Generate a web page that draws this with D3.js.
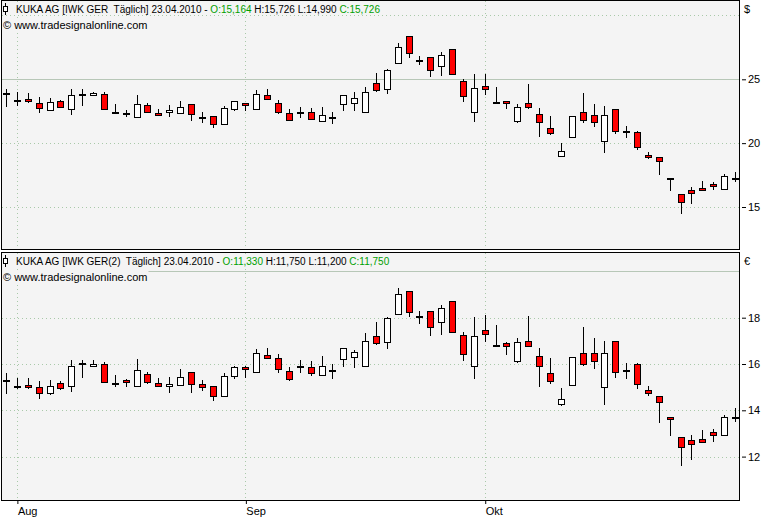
<!DOCTYPE html>
<html>
<head>
<meta charset="utf-8">
<script src="https://cdn.jsdelivr.net/npm/d3@7"></script>
<style>
  body { margin: 0; background: #fff; }
  svg { display: block; }
  text { font-family: "Liberation Sans", Arial, sans-serif; font-size: 11px; fill: #000; white-space: pre; }
</style>
</head>
<body>
<div id="chart"></div>
<script>
var svgWidth = 769;
var svgHeight = 520;

// month labels on the x axis (index of the candle where the month starts)
var monthLabels = ["Aug", "Sep", "Okt"];
var monthIdx = [1, 22, 44];

// upper panel ($)
var usdOpen = [23.90,23.41,23.43,23.12,22.60,23.28,22.65,23.88,23.75,23.83,22.45,22.39,22.05,22.97,22.34,22.42,22.39,23.04,22.08,22.11,21.48,22.65,23.14,22.69,23.75,23.15,22.34,22.47,22.42,21.72,22.08,23.04,23.18,22.42,24.69,24.22,26.25,28.36,26.53,26.72,26.01,27.34,24.84,22.42,24.47,23.25,23.33,21.72,23.15,22.29,21.17,19.03,20.47,22.42,22.19,20.15,22.71,20.99,20.86,19.06,18.90,17.24,16.01,16.33,16.48,16.79,16.40,17.24];
var usdHigh = [24.22,23.98,23.90,23.59,23.51,23.36,24.22,24.22,24.03,23.98,23.07,22.60,23.77,23.18,22.68,22.99,23.28,23.04,22.42,22.11,22.89,23.28,23.15,24.16,24.24,23.38,22.68,22.81,22.73,22.81,22.44,23.75,24.03,24.42,25.47,25.81,27.81,28.36,26.85,26.72,27.11,27.34,25.00,25.41,25.41,24.42,23.33,23.07,24.63,22.73,22.13,20.02,22.11,23.93,23.07,22.89,22.71,21.35,20.96,19.29,18.90,17.24,16.01,16.56,17.03,16.95,17.58,17.71];
var usdLow = [22.86,22.94,23.17,22.39,22.55,22.78,22.24,22.94,23.67,22.60,22.26,22.08,22.03,22.39,22.18,22.03,22.34,21.77,21.61,21.22,21.43,22.52,22.48,22.64,23.49,22.26,21.77,22.00,21.87,21.64,21.53,22.55,22.55,22.42,24.03,23.88,26.25,26.64,26.09,25.15,25.28,25.39,23.25,21.69,23.80,23.09,22.65,21.59,22.71,20.47,20.62,18.96,20.47,21.61,21.30,19.19,20.70,20.44,19.43,18.72,17.47,16.22,14.45,15.21,16.30,16.33,16.40,16.98];
var usdClose = [23.90,23.41,23.28,22.73,23.20,22.86,23.80,23.88,23.90,22.65,22.45,22.39,23.04,22.47,22.18,22.60,22.81,22.29,22.08,21.48,22.73,23.28,22.96,23.84,23.49,22.42,21.85,22.47,21.93,22.18,22.08,23.75,23.51,23.98,24.16,25.70,27.50,27.03,26.53,25.70,26.87,25.39,23.67,24.29,24.21,23.25,23.12,22.81,22.81,21.64,20.81,19.37,22.11,21.79,21.69,22.19,20.94,20.99,19.69,18.90,18.59,17.24,15.39,16.09,16.33,16.61,17.42,17.24];
var usdTicks = [15, 20, 25];
var usdDotted = [15, 20, 30];
var usdLevel = 25;

// lower panel (€)
var eurOpen = [15.32,15.06,15.09,14.99,14.73,15.16,15.06,16.06,15.90,15.98,15.19,15.31,15.04,15.55,15.17,15.04,15.11,15.64,15.12,15.04,14.63,15.47,15.86,15.64,16.37,16.24,15.68,15.91,15.89,15.54,15.76,16.23,16.29,15.90,17.21,16.94,18.15,19.14,18.09,18.28,17.80,18.71,17.24,15.90,17.45,16.83,16.89,16.12,16.98,16.33,15.60,14.26,15.08,16.46,16.46,14.99,16.98,15.73,15.99,14.86,14.60,13.70,12.83,12.70,12.75,13.05,12.92,13.73];
var eurHigh = [15.60,15.38,15.38,15.27,15.31,15.25,16.17,16.17,16.17,16.09,15.53,15.37,16.22,15.65,15.38,15.42,15.78,15.64,15.31,15.04,15.60,15.93,15.91,16.65,16.68,16.43,15.86,16.17,16.13,16.33,16.00,16.68,16.62,17.34,17.81,18.01,19.28,19.14,18.28,18.28,18.55,18.71,17.37,18.02,18.10,17.67,16.95,17.11,18.07,16.68,16.24,14.96,16.29,17.60,17.11,16.98,16.98,16.03,16.03,15.03,14.60,13.70,12.83,12.92,13.13,13.18,13.78,14.09];
var eurLow = [14.69,14.92,14.93,14.50,14.65,14.88,14.81,15.41,15.90,15.17,15.02,15.02,15.04,15.15,15.04,14.76,15.08,14.76,14.82,14.42,14.60,15.34,15.40,15.64,16.24,15.63,15.25,15.63,15.50,15.51,15.37,15.87,15.84,15.90,16.81,16.66,18.15,18.02,17.74,17.22,17.27,17.37,16.14,15.37,16.95,16.75,16.40,16.04,16.72,15.02,15.15,14.17,15.08,15.90,15.80,14.24,15.41,15.37,14.93,14.60,13.46,12.88,11.61,11.87,12.62,12.65,12.92,13.51];
var eurClose = [15.32,15.06,14.99,14.73,15.03,14.95,15.90,16.06,16.01,15.21,15.19,15.22,15.73,15.21,15.04,15.12,15.42,15.12,15.02,14.60,15.47,15.86,15.77,16.46,16.24,15.77,15.34,15.91,15.60,15.90,15.76,16.68,16.50,16.98,16.89,17.97,19.01,18.23,18.09,17.58,18.41,17.37,16.42,17.20,17.28,16.83,16.76,16.94,16.76,15.90,15.25,14.47,16.29,15.99,16.12,16.46,15.64,15.73,15.12,14.73,14.34,13.61,12.40,12.53,12.62,12.92,13.70,13.73];
var eurTicks = [12, 14, 16, 18];
var eurDotted = [12, 14, 16, 18];
var eurLevel = 20;

var panelBg = "#f4f4f4";
var gridColor = "#a9c9a9";
var levelColor = "#b7c7b7";

var svg = d3.select("#chart")
    .append("svg")
    .attr("width", svgWidth)
    .attr("height", svgHeight);

// shared x scale, one slot per trading day
var xScale = d3.scaleLinear()
    .domain([-0.5, 67.37])
    .range([0.56, 739]);

function px(v) {
    return Math.round(v) + 0.5;
}

function candlePanel(cfg) {
    var g = svg.append("g");
    var yScale = d3.scaleLinear()
        .domain(cfg.domain)
        .range(cfg.range);

    g.append("rect")
        .attr("x", 1.5)
        .attr("y", cfg.top + 0.5)
        .attr("width", 738)
        .attr("height", cfg.bottom - cfg.top)
        .attr("fill", panelBg)
        .attr("stroke", "none");

    // vertical month grid
    g.selectAll(".vgrid")
        .data(monthIdx)
        .enter()
        .append("line")
        .attr("x1", d => px(xScale(d)))
        .attr("x2", d => px(xScale(d)))
        .attr("y1", cfg.top + 1)
        .attr("y2", cfg.bottom)
        .attr("stroke", gridColor)
        .attr("stroke-dasharray", "1,3");

    // horizontal dotted grid
    g.selectAll(".hgrid")
        .data(cfg.dotted)
        .enter()
        .append("line")
        .attr("x1", 2)
        .attr("x2", 739)
        .attr("y1", d => px(yScale(d)))
        .attr("y2", d => px(yScale(d)))
        .attr("stroke", gridColor)
        .attr("stroke-dasharray", "1,3");

    // solid level line
    g.append("line")
        .attr("x1", 2)
        .attr("x2", 739)
        .attr("y1", px(yScale(cfg.level)))
        .attr("y2", px(yScale(cfg.level)))
        .attr("stroke", levelColor)
        .attr("stroke-width", 1);

    // header lines with their own backgrounds
    var head = g.append("g");
    var t1 = head.append("text")
        .attr("x", 16)
        .attr("y", cfg.top + 13)
        .style("font-size", "10px");
    cfg.title.forEach(function(p) {
        t1.append("tspan").text(p[0]).style("fill", p[1]);
    });
    var t2 = head.append("text")
        .attr("x", 3)
        .attr("y", cfg.top + 29)
        .text("\u00a9 www.tradesignalonline.com");
    [t1, t2].forEach(function(t) {
        var b = t.node().getBBox();
        head.insert("rect", "text")
            .attr("x", b.x - 1)
            .attr("y", b.y)
            .attr("width", b.width + 2)
            .attr("height", b.height)
            .attr("fill", panelBg);
    });

    // small candle icon in front of the title
    head.append("line")
        .attr("x1", 5.5).attr("x2", 5.5)
        .attr("y1", cfg.top + 3).attr("y2", cfg.top + 15)
        .attr("stroke", "#000");
    head.append("rect")
        .attr("x", 3.5).attr("y", cfg.top + 6.5)
        .attr("width", 4).attr("height", 5)
        .attr("fill", "#fff")
        .attr("stroke", "#000");

    // candles
    var candles = g.selectAll(".candle")
        .data(cfg.open.map(function(o, i) {
            return {i: i, o: o, h: cfg.high[i], l: cfg.low[i], c: cfg.close[i]};
        }))
        .enter()
        .append("g");

    candles.append("line")
        .attr("x1", d => px(xScale(d.i)))
        .attr("x2", d => px(xScale(d.i)))
        .attr("y1", d => Math.round(yScale(d.h)))
        .attr("y2", d => Math.round(yScale(d.l)))
        .attr("stroke", "#000");

    candles.append("rect")
        .attr("x", d => Math.round(xScale(d.i)) - 3 + 0.5)
        .attr("y", d => Math.round(yScale(Math.max(d.o, d.c))) + 0.5)
        .attr("width", 6)
        .attr("height", function(d) {
            var h = Math.round(yScale(Math.min(d.o, d.c))) - Math.round(yScale(Math.max(d.o, d.c)));
            return Math.max(h, 1);
        })
        .attr("fill", function(d) {
            if (d.c < d.o) return "#ff0000";
            if (d.c > d.o) return "#ffffff";
            return "#000";
        })
        .attr("stroke", "#000");

    // panel frame
    g.append("rect")
        .attr("x", 1.5)
        .attr("y", cfg.top + 0.5)
        .attr("width", 738)
        .attr("height", cfg.bottom - cfg.top)
        .attr("fill", "none")
        .attr("stroke", "#000");

    // right price axis
    var axis = g.append("g")
        .attr("transform", "translate(742,0)")
        .call(d3.axisRight(yScale).tickValues(cfg.ticks).tickSize(4).tickPadding(2).tickFormat(d3.format("d")));
    axis.select(".domain").remove();
    axis.selectAll("text")
        .style("font-family", "'Liberation Sans', Arial, sans-serif")
        .style("font-size", "11px")
        .attr("fill", "#000");
    axis.selectAll("line").attr("stroke", "#000");

    g.append("text")
        .attr("x", 744)
        .attr("y", cfg.top + cfg.unitDy)
        .text(cfg.unit);
}

candlePanel({
    top: 0, bottom: 249,
    domain: [15, 25], range: [207, 79.3],
    open: usdOpen, high: usdHigh, low: usdLow, close: usdClose,
    ticks: usdTicks, dotted: usdDotted, level: usdLevel,
    unit: "$", unitDy: 13,
    title: [["KUKA AG [IWK GER  T\u00e4glich] 23.04.2010 - ", "#000"], ["O:15,164", "#00a000"],
            [" H:15,726 L:14,990 ", "#000"], ["C:15,726", "#00a000"]]
});

candlePanel({
    top: 252, bottom: 500,
    domain: [12, 18], range: [456.6, 317.7],
    open: eurOpen, high: eurHigh, low: eurLow, close: eurClose,
    ticks: eurTicks, dotted: eurDotted, level: eurLevel,
    unit: "\u20ac", unitDy: 13,
    title: [["KUKA AG [IWK GER(2)  T\u00e4glich] 23.04.2010 - ", "#000"], ["O:11,330", "#00a000"],
            [" H:11,750 L:11,200 ", "#000"], ["C:11,750", "#00a000"]]
});

// date axis
var xAxis = svg.append("g")
    .attr("transform", "translate(0,501)")
    .call(d3.axisBottom(xScale)
        .tickValues(monthIdx)
        .tickSize(3)
        .tickFormat((d, i) => monthLabels[i]));
xAxis.select(".domain").remove();
xAxis.selectAll("line")
    .attr("stroke", "#000")
    .attr("transform", "translate(0.5,0)");
xAxis.selectAll("text")
    .attr("text-anchor", "start")
    .attr("dx", "0.5")
    .attr("y", 6)
    .style("font-family", "'Liberation Sans', Arial, sans-serif")
    .style("font-size", "11px")
    .attr("fill", "#000");
</script>
</body>
</html>
